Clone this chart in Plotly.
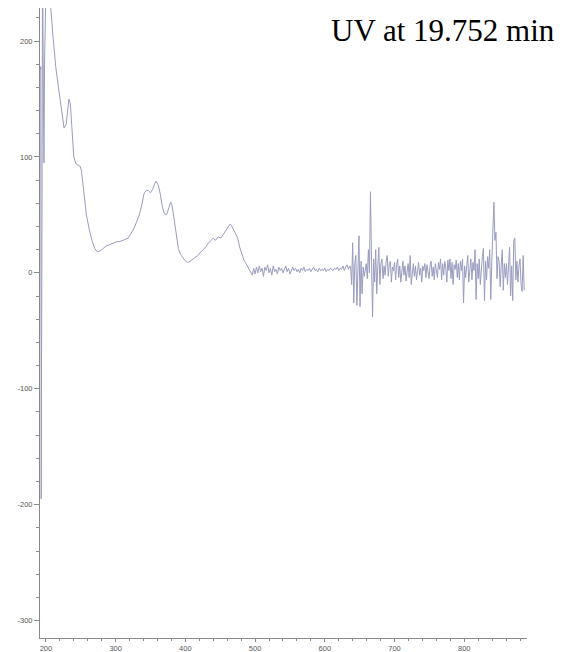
import plotly.graph_objects as go

# ---- data ----
# left-edge spikes
wl_edge = [192.0, 192.6, 193.2, 193.8, 194.4, 195.0, 195.6, 196.4, 197.2, 198.0, 199.0, 200.0,
           201, 202, 203, 204, 205]
ab_edge = [175, 178, -195, -120, 60, 232, 230, 150, 95, 180, 240, 245,
           248, 250, 250, 248, 242]

# smooth part of the spectrum
wl_main = [206, 210, 214, 218, 222, 226, 229, 231, 233, 235, 237, 240, 243, 246, 249, 251, 254, 258,
           262, 266, 270, 274, 278, 282, 286, 290, 294, 298, 302, 306, 310, 314, 318, 322, 326, 330,
           334, 338, 341, 344, 347, 350, 353, 356, 358, 361, 364, 367, 370, 373, 376, 379, 381, 384,
           387, 390, 393, 396, 399, 403, 407, 411, 414, 418, 422, 425, 429, 432, 436, 440, 443, 447,
           451, 454, 458, 461, 464, 466, 469, 472, 475, 478, 481, 484, 487, 490, 493, 496]
ab_main = [236, 205, 178, 160, 140, 125, 128, 140, 150, 146, 125, 100, 94, 93, 92, 88, 70, 50,
           38, 28, 21, 18, 19, 21, 23, 24, 25, 26, 27, 27, 28, 29, 30, 34, 38, 44,
           50, 60, 69, 71, 71, 69, 72, 77, 79, 76, 68, 57, 51, 50, 56, 61, 58, 46,
           32, 21, 16, 13, 11, 9, 10, 12, 13, 15, 18, 20, 22, 25, 28, 30, 28, 31,
           30, 33, 37, 40, 42, 41, 37, 33, 30, 22, 16, 11, 8, 5, 2, -2]

# quiet baseline
wl_quiet = [498, 500, 502, 504, 506, 508, 510, 512, 514, 516, 518, 520, 522, 524, 526, 528, 530, 532,
            534, 536, 538, 540, 542, 544, 546, 548, 550, 552, 554, 556, 558, 560, 562, 564, 566, 568,
            570, 572, 574, 576, 578, 580, 582, 584, 586, 588, 590, 592, 594, 596, 598, 600, 602, 604,
            606, 608, 610, 612, 614, 616, 618, 620, 622, 624, 626, 628, 630, 632, 634, 636]
ab_quiet = [4, -1, 5, 0, 6, 1, 4, -3, 5, 2, 7, 0, 4, -2, 6, 1, 3, -1,
            5, 2, 4, 0, 3, 6, 1, 4, -1, 3, 5, 2, 4, 1, 3, 0, 4, 2,
            5, 1, 3, 2, 4, 1, 3, 5, 2, 3, 1, 4, 2, 3, 2, 4, 1, 3,
            2, 4, 3, 2, 4, 3, 5, 2, 4, 3, 6, 2, 5, 7, 3, 6]

# noisy tail
wl_noise = [637, 638.5, 640, 641.5, 643, 644.5, 646, 647.5, 649, 650.5, 652, 653.5, 655, 656.5, 658,
            659.5, 661, 662.5, 664, 665.5, 667, 668.5, 670, 671.5, 673, 674.5, 676, 677.5, 679,
            680.5, 682, 683.5, 685, 686.5, 688, 689.5, 691, 692.5, 694, 695.5, 697, 698.5, 700,
            701.5, 703, 704.5, 706, 707.5, 709, 710.5, 712, 713.5, 715, 716.5, 718, 719.5, 721,
            722.5, 724, 725.5, 727, 728.5, 730, 731.5, 733, 734.5, 736, 737.5, 739, 740.5, 742,
            743.5, 745, 746.5, 748, 749.5, 751, 752.5, 754, 755.5, 757, 758.5, 760, 761.5, 763,
            764.5, 766, 767.5, 769, 770.5, 772, 773.5, 775, 776.5, 778, 779.5, 781, 782.5, 784,
            785.5, 787, 788.5, 790, 791.5, 793, 794.5, 796, 797.5, 799, 800.5, 802, 803.5, 805,
            806.5, 808, 809.5, 811, 812.5, 814, 815.5, 817, 818.5, 820, 821.5, 823, 824.5, 826,
            827.5, 829, 830.5, 832, 833.5, 835, 836.5, 838, 839.5, 841, 842.5, 844, 845.5, 847,
            848.5, 850, 851.5, 853, 854.5, 856, 857.5, 859, 860.5, 862, 863.5, 865, 866.5, 868,
            869.5, 871, 872.5, 874, 875.5, 877, 878.5, 880, 881.5, 883, 884.5, 886]
ab_noise = [5, -10, 26, -26, 8, 15, -28, 4, 32, -29, 10, -18, 5, -3, 2,
            8, -5, 20, 0, 70, 10, -38, 12, -8, 20, -18, 6, 22, -10,
            8, 12, -5, 6, -2, 10, 15, -3, 8, 10, -8, 5, 2, 9,
            -6, 7, 12, -4, 6, -8, 4, 10, -2, 6, -7, 3, 8, -4,
            15, -10, 4, 8, -3, 6, -6, 5, 9, -2, 4, -8, 6, 2,
            8, -4, 7, 1, -5, 6, 10, -3, 5, -6, 8, 2, -4, 9,
            3, 12, -6, 8, -2, 10, 4, -8, 11, 2, 12, -5, 9, -10,
            7, 3, 11, -4, 8, -6, 10, 2, 12, -26, 6, -4, 10, 15,
            -8, 5, 12, -6, 9, 2, 20, -23, 8, -5, 12, -10, 6, 14,
            21, -24, 10, -6, 14, 4, 20, -23, 10, 35, 61, 28, 35, -5,
            14, 10, -12, 6, 20, -15, 8, -4, 8, -10, 4, 22, -20, 6,
            -24, 28, 30, -6, 10, -8, 6, 12, -10, -16, 15, -15]

y_ticks = [-300, -200, -100, 0, 100, 200]
x_ticks = [200, 300, 400, 500, 600, 700, 800]
title_text = "UV at 19.752 min"

wavelength = wl_edge + wl_main + wl_quiet + wl_noise
absorb = ab_edge + ab_main + ab_quiet + ab_noise

fig = go.Figure()
fig.add_trace(go.Scatter(
    x=wavelength, y=absorb, mode="lines",
    line=dict(color="#9a9cc0", width=1),
    showlegend=False, hoverinfo="skip",
))

axis_common = dict(
    showgrid=False, zeroline=False, showline=True, linecolor="#8a8a8a", linewidth=1,
    ticks="outside", tickcolor="#8a8a8a", tickwidth=1,
    tickfont=dict(family="Arial, Liberation Sans, sans-serif", size=7.5, color="#555555"),
    mirror=False,
)

fig.update_xaxes(
    range=[191.5, 890], tickvals=x_ticks, ticktext=[str(v) for v in x_ticks], ticklen=3,
    minor=dict(dtick=20, tick0=200, ticks="outside", ticklen=2, tickcolor="#8a8a8a"),
    **axis_common,
)
fig.update_yaxes(
    range=[-315, 228.5], tickvals=y_ticks, ticktext=[str(v) for v in y_ticks], ticklen=5,
    minor=dict(dtick=20, tick0=0, ticks="outside", ticklen=3, tickcolor="#8a8a8a"),
    **axis_common,
)

# the page body has an 8 px margin, so figure coords = page coords - 8
fig.add_annotation(
    text=title_text, xref="paper", yref="paper",
    x=(549 - 32) / 487, y=1 - 23 / 630, xanchor="right", yanchor="middle",
    showarrow=False,
    font=dict(family="Liberation Serif, Times New Roman, serif", size=31, color="#000000"),
)

fig.update_layout(
    width=554, height=644,
    margin=dict(l=32, r=35, t=0, b=14),
    plot_bgcolor="white", paper_bgcolor="white",
)

fig.write_html("out.html")
